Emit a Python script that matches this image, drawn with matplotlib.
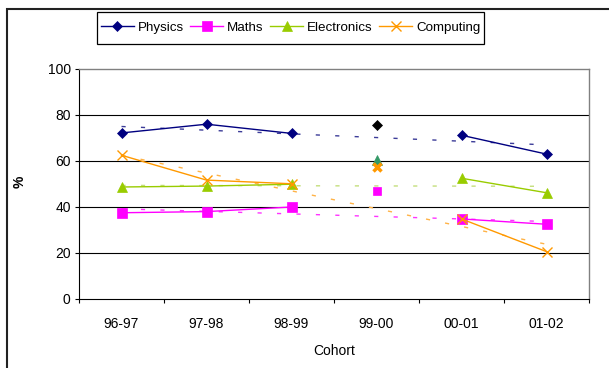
import numpy as np
import matplotlib
matplotlib.use("Agg")
import matplotlib.pyplot as plt
from matplotlib.patches import Rectangle

plt.rcParams['font.family'] = ['Liberation Sans', 'DejaVu Sans']

cohorts = ["96-97", "97-98", "98-99", "99-00", "00-01", "01-02"]
physics = [72.2, 76.0, 72.0, 75.6, 71.2, 63.0]
maths = [37.5, 38.0, 40.0, 47.0, 34.8, 32.5]
electronics = [48.7, 49.1, 49.9, 60.4, 52.5, 46.2]
computing = [62.5, 51.7, 50.1, 57.2, 34.8, 20.6]

# linear trend values at the first and last cohort
physics_trend = [75.0, 67.0]
maths_trend = [39.2, 33.7]
electronics_trend = [49.4, 49.0]
computing_trend = [62.5, 23.8]

gap = 3  # index of 99-00, shown as a stand-alone point

W, H = 609, 368
fig = plt.figure(figsize=(W/100, H/100), dpi=100)
ax = fig.add_axes([79/W, 1-299/H, 510/W, 230/H])

# outer chart frame
fig.patches.append(Rectangle((7/W, -0.2), 1.2, 1 - 9/H + 0.2,
                             transform=fig.transFigure, fill=False,
                             edgecolor='#222222', linewidth=1.5))
# legend box
fig.patches.append(Rectangle((97/W, 1-44/H), 387/W, 32/H,
                             transform=fig.transFigure, fill=False,
                             edgecolor='#000000', linewidth=0.9))

x = np.arange(1, 7)

series = [
    ("Physics", physics, physics_trend, '#000080', 'D', 4.8, '#000000', '#3c3c98'),
    ("Maths", maths, maths_trend, '#ff00ff', 's', 6.5, '#ff00ff', '#ff33ff'),
    ("Electronics", electronics, electronics_trend, '#99cc00', '^', 7.5, '#339966', '#c4de7c'),
    ("Computing", computing, computing_trend, '#ff9900', 'x', 7.0, '#ff9900', '#ffb347'),
]

for name, vals, trend, col, mk, ms, gapcol, tcol in series:
    ax.plot([x[0], x[-1]], trend, color=tcol, lw=1.0, dashes=(3, 11), zorder=2)

for name, vals, trend, col, mk, ms, gapcol, tcol in series:
    v = np.array(vals, dtype=float)
    main = v.copy()
    main[gap] = np.nan
    mew = 1.0 if mk == 'x' else 0.5
    ax.plot(x, main, color=col, lw=1.0, marker=mk, markersize=ms,
            markerfacecolor=col, markeredgecolor=col, markeredgewidth=mew,
            label=name, zorder=3)
    if mk == 'x':
        ax.plot(x[gap], v[gap], marker=mk, markersize=ms - 1, color=gapcol,
                markeredgewidth=2.5, zorder=4)
    elif mk == 's':
        ax.plot(x[gap], v[gap], marker=mk, markersize=ms - 0.5, color=gapcol,
                markeredgewidth=0.5, zorder=4)
    else:
        ax.plot(x[gap], v[gap], marker=mk, markersize=ms, color=gapcol,
                markeredgewidth=0.5, zorder=4)

ax.set_xlim(0.5, 6.5)
ax.set_ylim(0, 100)
ax.set_yticks(range(0, 101, 20))
for yv in range(20, 100, 20):
    ax.axhline(yv, color='#000000', lw=0.8, zorder=1)

ax.set_xticks(x)
ax.set_xticklabels(cohorts, fontsize=10)
ax.set_xticks(np.arange(0.5, 6.6, 1), minor=True)
ax.tick_params(axis='x', which='major', length=0, pad=13)
ax.tick_params(axis='x', which='minor', length=3.2, width=0.8, direction='out')
ax.tick_params(axis='y', length=3, width=0.8, pad=3, labelsize=10)

for s in ('top', 'right'):
    ax.spines[s].set_color('#808080')
    ax.spines[s].set_linewidth(1.0)
for s in ('left', 'bottom'):
    ax.spines[s].set_color('#000000')
    ax.spines[s].set_linewidth(0.8)

fig.text(20/W, 1-182/H, "%", rotation=90, fontsize=10, fontweight='bold',
         ha='center', va='center')
fig.text(334/W, 1-351/H, "Cohort", fontsize=10, ha='center', va='center')

ax.legend(loc='center', bbox_to_anchor=(290.5/W, 1-28/H),
          bbox_transform=fig.transFigure, ncol=4, fontsize=9.6,
          frameon=False, handlelength=2.5, handletextpad=0.3,
          columnspacing=0.45, borderpad=0.35)

fig.savefig("out.png", dpi=100)
